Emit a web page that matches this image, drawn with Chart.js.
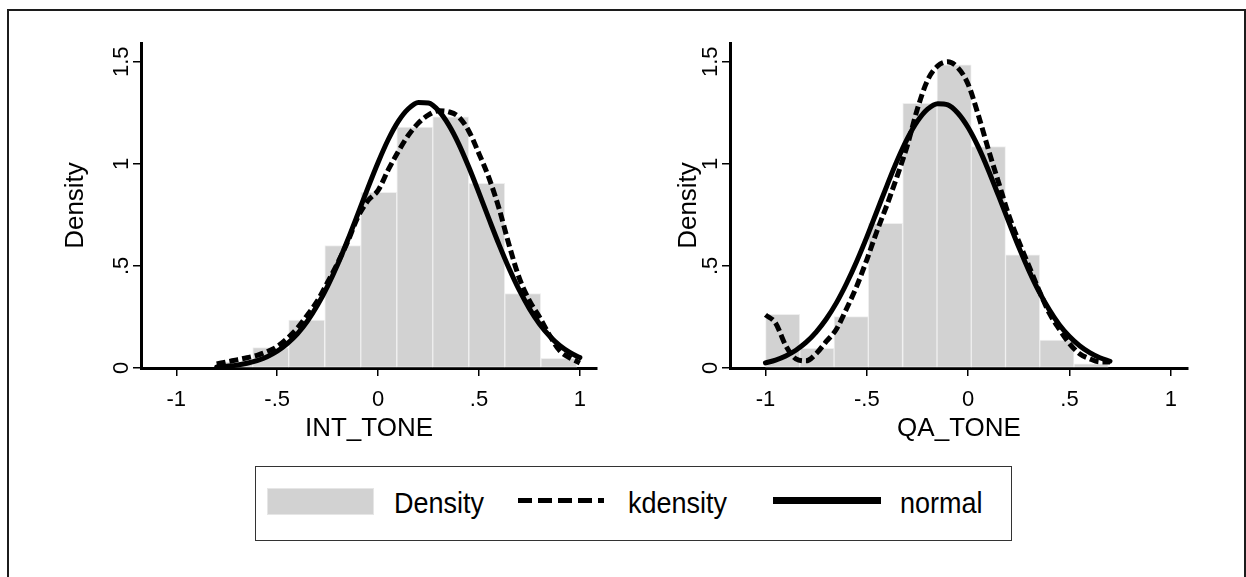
<!DOCTYPE html>
<html>
<head>
<meta charset="utf-8">
<script src="https://cdn.jsdelivr.net/npm/chart.js@4.4.1/dist/chart.umd.min.js"></script>
<style>
  html, body { margin: 0; padding: 0; background: #fff; }
  body { width: 1246px; height: 577px; position: relative; overflow: hidden;
         font-family: 'Liberation Sans', Arial, sans-serif; color: #000; }
  #frame { position: absolute; left: 7px; top: 9px; width: 1239px; height: 640px;
           box-sizing: border-box; border: 2px solid #1c1c1c; border-bottom: none; }
  canvas { position: absolute; top: 0; }
  #leftChart  { left: 57px; }
  #rightChart { left: 670px; }
  #legend { position: absolute; left: 255px; top: 466px; width: 757px; height: 75px;
            box-sizing: border-box; border: 1.5px solid #333; }
  #legend > div { position: absolute; }
  .swatch { left: 11px; top: 21px; width: 107px; height: 27px; background: #d2d2d2;
            box-sizing: border-box; border: 1px solid #e6e6e6; }
  .dash { left: 262px; top: 31px; width: 86px; height: 5px;
          background: repeating-linear-gradient(90deg, #000 0 14px, transparent 14px 20px); }
  .solid { left: 517px; top: 30px; width: 108px; height: 7px; background: #000; }
  .lbl { top: 20px; font-size: 27px; line-height: 32px; transform: scaleY(1.08); transform-origin: left center; }
</style>
</head>
<body>
<div id="frame"></div>
<canvas id="leftChart" width="566" height="460"></canvas>
<canvas id="rightChart" width="576" height="460"></canvas>
<div id="legend">
  <div class="swatch"></div>
  <div class="lbl" style="left:138px">Density</div>
  <div class="dash"></div>
  <div class="lbl" style="left:372px">kdensity</div>
  <div class="solid"></div>
  <div class="lbl" style="left:644px">normal</div>
</div>
<script>
// ---- axis ticks (Stata style labels) ----
const xTickValues = [-1, -0.5, 0, 0.5, 1];
const xTickLabels = ['-1', '-.5', '0', '.5', '1'];
const yTickValues = [0, 0.5, 1, 1.5];
const yTickLabels = ['0', '.5', '1', '1.5'];

// ---- INT_TONE ----
const binCentersLeft = [-0.711, -0.532, -0.354, -0.175, 0.003, 0.182, 0.360, 0.539, 0.717, 0.896];
const histLeft       = [0.03, 0.10, 0.235, 0.60, 0.86, 1.18, 1.23, 0.905, 0.365, 0.047];

const xsLeft = [-0.80, -0.75, -0.70, -0.65, -0.60, -0.55, -0.50, -0.45, -0.40, -0.35, -0.30, -0.25,
                -0.20, -0.15, -0.10, -0.05, 0.00, 0.05, 0.10, 0.15, 0.20, 0.25, 0.30, 0.35,
                0.40, 0.45, 0.50, 0.55, 0.60, 0.65, 0.70, 0.75, 0.80, 0.85, 0.90, 0.95, 1.00];
const normalLeft = [0.005, 0.009, 0.014, 0.023, 0.036, 0.055, 0.082, 0.119, 0.167, 0.230, 0.308, 0.401,
                    0.508, 0.628, 0.755, 0.884, 1.007, 1.118, 1.208, 1.270, 1.301, 1.298, 1.260, 1.191,
                    1.097, 0.983, 0.858, 0.729, 0.603, 0.486, 0.381, 0.291, 0.216, 0.157, 0.110, 0.076, 0.051];
const kdensLeft  = [0.020, 0.030, 0.040, 0.050, 0.062, 0.080, 0.105, 0.145, 0.195, 0.260, 0.330, 0.420,
                    0.515, 0.620, 0.740, 0.820, 0.870, 0.970, 1.060, 1.140, 1.200, 1.240, 1.260, 1.255,
                    1.230, 1.160, 1.050, 0.930, 0.780, 0.600, 0.440, 0.330, 0.250, 0.160, 0.085, 0.050, 0.025];

// ---- QA_TONE ----
const binCentersRight = [-0.915, -0.746, -0.577, -0.408, -0.238, -0.069, 0.100, 0.269, 0.438, 0.607];
const histRight       = [0.263, 0.096, 0.252, 0.709, 1.297, 1.485, 1.085, 0.554, 0.137, 0.02];

const xsRight = [-1.00, -0.95, -0.90, -0.85, -0.80, -0.75, -0.70, -0.65, -0.60, -0.55, -0.50, -0.45,
                 -0.40, -0.35, -0.30, -0.25, -0.20, -0.15, -0.10, -0.05, 0.00, 0.05, 0.10, 0.15,
                 0.20, 0.25, 0.30, 0.35, 0.40, 0.45, 0.50, 0.55, 0.60, 0.65, 0.70];
const normalRight = [0.025, 0.039, 0.059, 0.087, 0.125, 0.176, 0.240, 0.319, 0.414, 0.522, 0.641, 0.768,
                     0.895, 1.016, 1.123, 1.209, 1.268, 1.295, 1.289, 1.248, 1.178, 1.083, 0.969, 0.844,
                     0.717, 0.592, 0.477, 0.374, 0.286, 0.212, 0.154, 0.109, 0.075, 0.050, 0.033];
const kdensRight  = [0.26, 0.22, 0.11, 0.045, 0.035, 0.07, 0.13, 0.19, 0.29, 0.40, 0.53, 0.67,
                     0.80, 0.94, 1.09, 1.27, 1.41, 1.48, 1.50, 1.47, 1.39, 1.24, 1.07, 0.91,
                     0.75, 0.62, 0.50, 0.38, 0.27, 0.19, 0.12, 0.07, 0.045, 0.03, 0.03];

const FONT = "'Liberation Sans', Arial, sans-serif";
Chart.defaults.font.family = FONT;
Chart.defaults.color = '#000';

const toPoints = (xs, ys) => xs.map((x, i) => ({ x: x, y: ys[i] }));

// rotated y tick labels, Stata style
const yTickLabelPlugin = {
  id: 'yTickLabels',
  afterDraw(chart) {
    const { ctx, chartArea, scales: { y } } = chart;
    ctx.save();
    ctx.font = '22px ' + FONT;
    ctx.fillStyle = '#000';
    ctx.textAlign = 'center';
    ctx.textBaseline = 'alphabetic';
    yTickValues.forEach((v, i) => {
      ctx.save();
      ctx.translate(chartArea.left - 13, y.getPixelForValue(v));
      ctx.rotate(-Math.PI / 2);
      ctx.fillText(yTickLabels[i], 0, 0);
      ctx.restore();
    });
    ctx.restore();
  }
};

function makePanel(id, cfg) {
  const axisGrid   = { drawOnChartArea: false, drawTicks: true, tickLength: 8, color: '#000', lineWidth: 1.5, offset: false };
  const axisBorder = { display: true, color: '#000', width: 3 };

  return new Chart(document.getElementById(id), {
    type: 'bar',
    data: {
      datasets: [
        {
          type: 'line',
          data: toPoints(cfg.xs, cfg.normal),
          borderColor: '#000',
          borderWidth: 5,
          borderCapStyle: 'round',
          pointRadius: 0,
          cubicInterpolationMode: 'monotone',
          fill: false
        },
        {
          type: 'line',
          data: toPoints(cfg.xs, cfg.kdens),
          borderColor: '#000',
          borderWidth: 5,
          borderDash: [9, 4],
          pointRadius: 0,
          cubicInterpolationMode: 'monotone',
          fill: false
        },
        {
          type: 'bar',
          data: toPoints(cfg.bins, cfg.hist),
          backgroundColor: '#d2d2d2',
          borderColor: '#efefef',
          borderWidth: 1,
          borderSkipped: false,
          barPercentage: 1,
          categoryPercentage: 1
        }
      ]
    },
    options: {
      responsive: false,
      animation: false,
      devicePixelRatio: 1,
      layout: { padding: { top: 43, bottom: 13, left: 0, right: cfg.padRight } },
      plugins: { legend: { display: false }, tooltip: { enabled: false } },
      scales: {
        x: {
          type: 'linear',
          min: -1.175, max: 1.085,
          offset: false,
          z: 1,
          afterBuildTicks: s => { s.ticks = xTickValues.map(v => ({ value: v })); },
          afterFit: s => { s.height = 79; },
          grid: axisGrid,
          border: axisBorder,
          ticks: {
            callback: (v, i) => xTickLabels[i],
            font: { size: 22 },
            color: '#000',
            padding: 11,
            maxRotation: 0,
            autoSkip: false
          },
          title: { display: true, text: cfg.title, font: { size: 26 }, color: '#000', padding: { top: 4, bottom: 3 } }
        },
        y: {
          type: 'linear',
          min: 0, max: 1.592,
          z: 1,
          afterBuildTicks: s => { s.ticks = yTickValues.map(v => ({ value: v })); },
          afterFit: s => { s.width = cfg.yWidth; },
          grid: axisGrid,
          border: axisBorder,
          ticks: { display: false },
          title: { display: true, text: 'Density', font: { size: 26 }, color: '#000', padding: { top: 3, bottom: 4 } }
        }
      }
    },
    plugins: [yTickLabelPlugin]
  });
}

makePanel('leftChart', {
  xs: xsLeft, normal: normalLeft, kdens: kdensLeft,
  bins: binCentersLeft, hist: histLeft,
  title: 'INT_TONE', yWidth: 84, padRight: 26
});

makePanel('rightChart', {
  xs: xsRight, normal: normalRight, kdens: kdensRight,
  bins: binCentersRight, hist: histRight,
  title: 'QA_TONE', yWidth: 60, padRight: 58
});
</script>
</body>
</html>
